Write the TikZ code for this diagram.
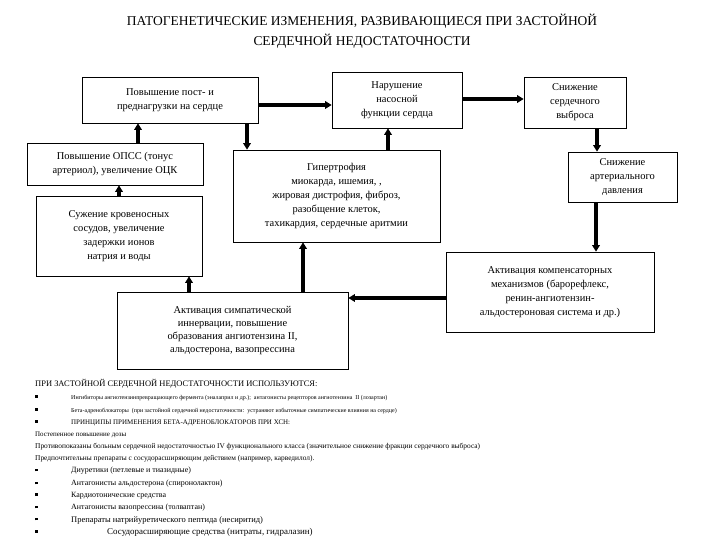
\documentclass[tikz,border=0pt]{standalone}
\usepackage{fontspec}
\setmainfont{Liberation Serif}
\usetikzlibrary{arrows.meta}
\tikzset{
  box/.style={draw=black, line width=0.7bp, rectangle, align=center, inner sep=2bp,
    font=\fontsize{10.5}{14}\selectfont},
  link/.style={-{Triangle[length=6.5bp,width=7.5bp]}, line width=3.2bp, draw=black},
  note/.style={anchor=west, inner sep=0pt, font=\fontsize{7}{8}\selectfont},
  heading/.style={align=center, font=\fontsize{13.5}{20}\selectfont}
}
\newcommand{\sqbul}[1]{\makebox[#1][l]{\rule[1.6bp]{2.4bp}{2.8bp}}}

\begin{document}
\begin{tikzpicture}[x=1bp, y=-1bp]
  \useasboundingbox[fill=white] (0,0) rectangle (720,540);

  \node[heading] (title) at (362,31) {ПАТОГЕНЕТИЧЕСКИЕ ИЗМЕНЕНИЯ, РАЗВИВАЮЩИЕСЯ ПРИ ЗАСТОЙНОЙ\\СЕРДЕЧНОЙ НЕДОСТАТОЧНОСТИ};

  % upper row
  \node[box, minimum width=176bp, minimum height=46bp] (load) at (170,100) {Повышение пост- и\\преднагрузки на сердце};
  \node[box, minimum width=130bp, minimum height=56bp] (pump) at (397,100) {Нарушение\\насосной\\функции сердца};
  \node[box, minimum width=102bp, minimum height=51bp] (output) at (575,102.5) {Снижение\\сердечного\\выброса};

  % middle
  \node[box, minimum width=176bp, minimum height=42bp] (opss) at (115,164) {Повышение ОПСС (тонус\\артериол), увеличение ОЦК};
  \node[box, minimum width=166bp, minimum height=80bp] (narrow) at (119,236) {Сужение кровеносных\\сосудов, увеличение\\задержки ионов\\натрия и воды};
  \node[box, minimum width=207bp, minimum height=92bp] (hyper) at (336.5,196) {Гипертрофия\\миокарда, ишемия, ,\\жировая дистрофия, фиброз,\\разобщение клеток,\\тахикардия, сердечные аритмии};
  \node[box, minimum width=109bp, minimum height=50bp] (bp) at (622.5,177) {Снижение\\артериального\\давления};
  \node[box, minimum width=208bp, minimum height=80bp] (comp) at (550,292) {Активация компенсаторных\\механизмов (барорефлекс,\\ренин-ангиотензин-\\альдостероновая система и др.)};
  \node[box, minimum width=231bp, minimum height=77bp, font=\fontsize{10.5}{13}\selectfont] (symp) at (232.5,330.5) {Активация симпатической\\иннервации, повышение\\образования ангиотензина II,\\альдостерона, вазопрессина};

  \draw[link] (load.east |- 0,105) -- (pump.west |- 0,105);
  \draw[link] (pump.east |- 0,99) -- (output.west |- 0,99);
  \draw[link] (output.south -| 597,0) -- (bp.north -| 597,0);
  \draw[link] (bp.south -| 596,0) -- (comp.north -| 596,0);
  \draw[link] (comp.west |- 0,298) -- (symp.east |- 0,298);
  \draw[link] (symp.north -| 303,0) -- (hyper.south -| 303,0);
  \draw[link] (symp.north -| 189,0) -- (narrow.south -| 189,0);
  \draw[link] (narrow.north -| 119,0) -- (opss.south -| 119,0);
  \draw[link] (opss.north -| 138,0) -- (load.south -| 138,0);
  \draw[link] (load.south -| 247,0) -- (hyper.north -| 247,0);
  \draw[link] (hyper.north -| 388,0) -- (pump.south -| 388,0);

  % list below
  \node[note, font=\fontsize{8.5}{10}\selectfont] (use) at (35,384) {ПРИ ЗАСТОЙНОЙ СЕРДЕЧНОЙ НЕДОСТАТОЧНОСТИ ИСПОЛЬЗУЮТСЯ:};
  \node[note, font=\fontsize{6}{7}\selectfont] (l1) at (35,398) {\sqbul{36bp}Ингибиторы ангиотензинпревращающего фермента (эналаприл и др.);\ \ антагонисты рецепторов ангиотензина\ \ II (лозартан)};
  \node[note, font=\fontsize{6}{7}\selectfont] (l2) at (35,411) {\sqbul{36bp}Бета-адреноблокаторы\ \ (при застойной сердечной недостаточности:\ \ устраняют избыточные симпатические влияния на сердце)};
  \node[note] (l3) at (35,423) {\sqbul{36bp}ПРИНЦИПЫ ПРИМЕНЕНИЯ БЕТА-АДРЕНОБЛОКАТОРОВ ПРИ ХСН:};
  \node[note] (l4) at (35,435) {Постепенное повышение дозы};
  \node[note, font=\fontsize{7.4}{8}\selectfont] (l5) at (35,447) {Противопоказаны больным сердечной недостаточностью IV функционального класса (значительное снижение фракции сердечного выброса)};
  \node[note, font=\fontsize{7.4}{8}\selectfont] (l6) at (35,459) {Предпочтительны препараты с сосудорасширяющим действием (например, карведилол).};
  \node[note, font=\fontsize{8}{9}\selectfont] (l7) at (35,471) {\sqbul{36bp}Диуретики (петлевые и тиазидные)};
  \node[note, font=\fontsize{8}{9}\selectfont] (l8) at (35,484) {\sqbul{36bp}Антагонисты альдостерона (спиронолактон)};
  \node[note, font=\fontsize{8}{9}\selectfont] (l9) at (35,496) {\sqbul{36bp}Кардиотонические средства};
  \node[note, font=\fontsize{8}{9}\selectfont] (l10) at (35,508) {\sqbul{36bp}Антагонисты вазопрессина (толваптан)};
  \node[note, font=\fontsize{8.5}{9}\selectfont] (l11) at (35,520) {\sqbul{36bp}Препараты натрийуретического пептида (несиритид)};
  \node[note, font=\fontsize{9}{10}\selectfont] (l12) at (35,532) {\sqbul{72bp}Сосудорасширяющие средства (нитраты, гидралазин)};
\end{tikzpicture}
\end{document}
